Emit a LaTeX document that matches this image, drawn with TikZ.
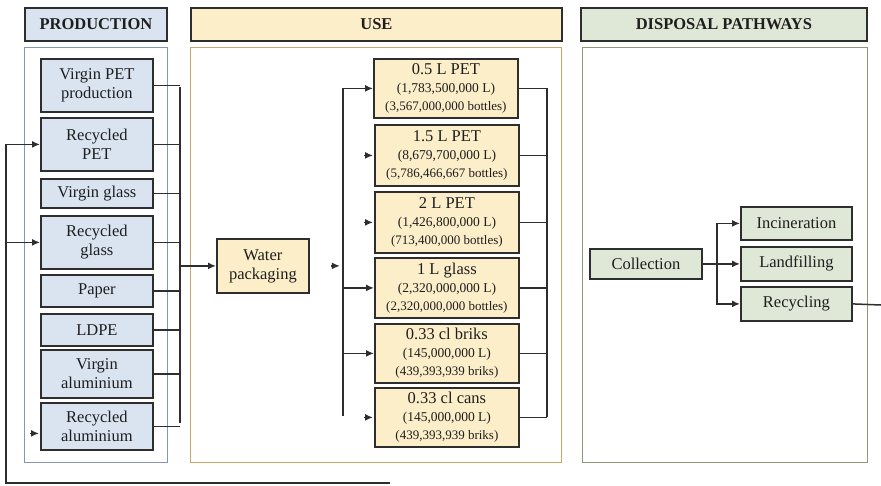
\documentclass[tikz,border=0pt]{standalone}
\usepackage{fontspec}
\setmainfont{Liberation Serif}
\usetikzlibrary{arrows.meta,calc}
\definecolor{pfill}{HTML}{DAE4F1}
\definecolor{pedge}{HTML}{8597B4}
\definecolor{ufill}{HTML}{FCEEC8}
\definecolor{uedge}{HTML}{C8A86C}
\definecolor{dfill}{HTML}{DFE8D6}
\definecolor{dedge}{HTML}{8C9B76}
\definecolor{ink}{HTML}{2E2E2E}
\definecolor{txt}{HTML}{1E1E1E}
\tikzset{
  box/.style={draw=ink, line width=1.8pt, anchor=north west, inner sep=0pt, align=center, text=txt,
    font=\fontsize{16.5}{19}\selectfont},
  pbox/.style={box, fill=pfill},
  ubox/.style={box, fill=ufill},
  dbox/.style={box, fill=dfill},
  hdr/.style={box, font=\bfseries\fontsize{16.5}{19}\selectfont},
  panel/.style={line width=1.4pt},
  line/.style={draw=ink, line width=1.5pt},
  arr/.style={line, -{Latex[length=8pt,width=7pt]}},
}
\newcommand{\ubt}[3]{{\fontsize{16.5}{18}\selectfont #1}\\[-1pt]{\fontsize{13.5}{16}\selectfont #2}\\[-1pt]{\fontsize{13}{16}\selectfont #3}}
\begin{document}
\begin{tikzpicture}[x=1pt,y=-1pt]
\useasboundingbox[fill=white] (0,0) rectangle (881,485);
% headers
\node[hdr, fill=pfill, minimum width=142pt, minimum height=33pt] (hp) at (24,7) {PRODUCTION};
\node[hdr, fill=ufill, minimum width=371pt, minimum height=33pt] (hu) at (190,7) {USE};
\node[hdr, fill=dfill, minimum width=286pt, minimum height=33pt] (hd) at (580,7) {DISPOSAL PATHWAYS};
% panels
\node[panel, draw=pedge, anchor=north west, minimum width=143pt, minimum height=415pt] (pp) at (24,47) {};
\node[panel, draw=uedge, anchor=north west, minimum width=371pt, minimum height=415pt] (pu) at (190,47) {};
\node[panel, draw=dedge, anchor=north west, minimum width=285pt, minimum height=415pt] (pd) at (582,47) {};
% production boxes
\node[pbox, minimum width=112pt, minimum height=53pt] (p1) at (40,58) {Virgin PET\\production};
\node[pbox, minimum width=112pt, minimum height=53pt] (p2) at (40,117) {Recycled\\PET};
\node[pbox, minimum width=112pt, minimum height=29pt] (p3) at (40,178) {Virgin glass};
\node[pbox, minimum width=112pt, minimum height=53pt] (p4) at (40,215) {Recycled\\glass};
\node[pbox, minimum width=112pt, minimum height=32pt] (p5) at (40,274) {Paper};
\node[pbox, minimum width=112pt, minimum height=32pt] (p6) at (40,313) {LDPE};
\node[pbox, minimum width=112pt, minimum height=48pt] (p7) at (40,349) {Virgin\\aluminium};
\node[pbox, minimum width=112pt, minimum height=47pt] (p8) at (40,402) {Recycled\\aluminium};
% use boxes
\node[ubox, minimum width=92pt, minimum height=54pt] (wp) at (216,238) {Water\\packaging};
\node[ubox, minimum width=144pt, minimum height=59pt] (u1) at (373,58) {\ubt{0.5 L PET}{(1,783,500,000 L)}{(3,567,000,000 bottles)}};
\node[ubox, minimum width=144pt, minimum height=61pt] (u2) at (374,124) {\ubt{1.5 L PET}{(8,679,700,000 L)}{(5,786,466,667 bottles)}};
\node[ubox, minimum width=144pt, minimum height=61pt] (u3) at (374,191) {\ubt{2 L PET}{(1,426,800,000 L)}{(713,400,000 bottles)}};
\node[ubox, minimum width=144pt, minimum height=60pt] (u4) at (374,257) {\ubt{1 L glass}{(2,320,000,000 L)}{(2,320,000,000 bottles)}};
\node[ubox, minimum width=144pt, minimum height=59pt] (u5) at (374,323) {\ubt{0.33 cl briks}{(145,000,000 L)}{(439,393,939 briks)}};
\node[ubox, minimum width=144pt, minimum height=59pt] (u6) at (374,387) {\ubt{0.33 cl cans}{(145,000,000 L)}{(439,393,939 briks)}};
% disposal boxes
\node[dbox, minimum width=112pt, minimum height=30pt] (col) at (589,248) {Collection};
\node[dbox, minimum width=111pt, minimum height=33pt] (inc) at (740,206) {Incineration};
\node[dbox, minimum width=111pt, minimum height=34pt] (lan) at (740,246) {Landfilling};
\node[dbox, minimum width=111pt, minimum height=34pt] (rec) at (740,286) {Recycling};
% coordinates
\coordinate (pbt) at (180,87);
\coordinate (pbb) at (180,423);
\coordinate (ubt) at (343,87);
\coordinate (ubb) at (343,416);
\coordinate (ucx) at (547,0);
\coordinate (dbx) at (717,0);
\coordinate (out) at (881,305);
\coordinate (lb) at (6,483);
\coordinate (lend) at (390,483);
% production connectors
\draw[line] (pbt) -- (pbb);
\foreach \n in {p1,p2,p3,p4,p5,p6,p7,p8} \draw[line] (\n.east) -- (\n.east -| pbt);
\draw[arr] (wp.west -| pbt) -- (wp.west);
% use connectors
\draw[arr] (ubb) |- (u1.west);
\draw[arr] (u4.west -| ubt) -- (u4.west);
\draw[arr] (u5.west -| ubt) -- (u5.west);
\draw[arr] ($(u2.west)+(-10,0)$) -- ($(u2.west)+(-1,0)$);
\draw[arr] ($(u3.west)+(-10,0)$) -- ($(u3.west)+(-1,0)$);
\draw[arr] ($(u6.west)+(-10,0)$) -- ($(u6.west)+(-1,0)$);
\draw[arr] ($(wp.east)+(21,0)$) -- ($(wp.east)+(30,0)$);
\foreach \n in {u1,u2,u3,u4,u5,u6} \draw[line] (\n.east) -- (\n.east -| ucx);
\draw[line] (u1.east -| ucx) -- (u6.east -| ucx);
% disposal connectors
\draw[arr] (col.east) -- (lan.west);
\draw[arr] (col.east -| dbx) |- (inc.west);
\draw[arr] (col.east -| dbx) |- (rec.west);
\draw[line] (rec.east) -- (out);
% loop back
\draw[arr] (lend) -- (lb) |- (p2.west);
\draw[arr] (lb) |- (p4.west);
\draw[arr] ($(p8.west)+(-10,7)$) -- ($(p8.west)+(-1,7)$);
\end{tikzpicture}
\end{document}
